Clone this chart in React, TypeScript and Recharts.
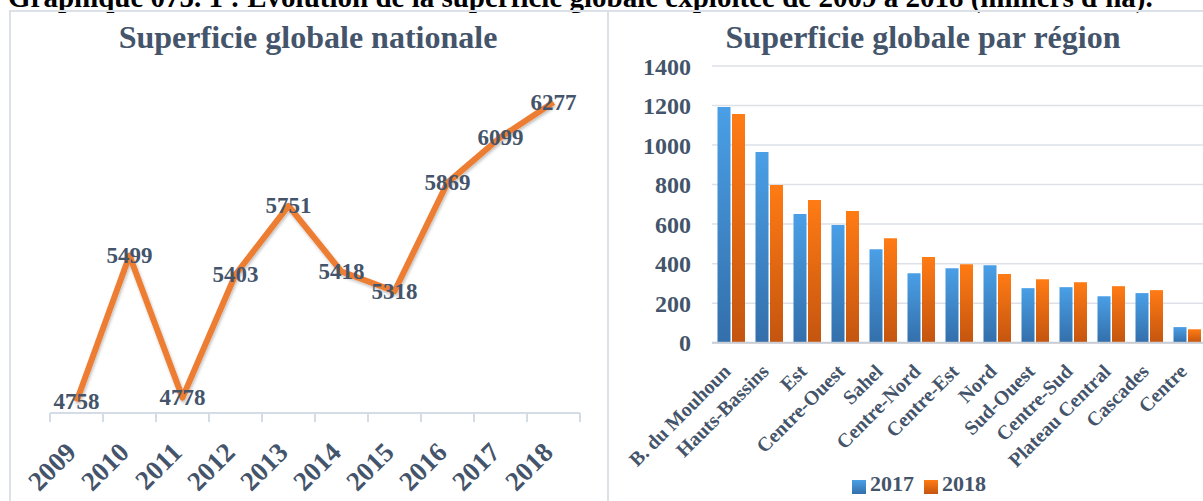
import React from 'react';
import { LineChart, Line, XAxis, YAxis, LabelList, BarChart, Bar, CartesianGrid, Legend } from 'recharts';

// national total (thousand ha)
const years = ['2009', '2010', '2011', '2012', '2013', '2014', '2015', '2016', '2017', '2018'];
const nationalValues = [4758, 5499, 4778, 5403, 5751, 5418, 5318, 5869, 6099, 6277];

// by region
const regions = [
  'B. du Mouhoun', 'Hauts-Bassins', 'Est', 'Centre-Ouest', 'Sahel', 'Centre-Nord', 'Centre-Est',
  'Nord', 'Sud-Ouest', 'Centre-Sud', 'Plateau Central', 'Cascades', 'Centre',
];
const values2017 = [1193, 965, 651, 595, 473, 352, 377, 392, 276, 281, 235, 251, 79];
const values2018 = [1157, 798, 722, 666, 529, 434, 397, 347, 321, 306, 286, 266, 68];
const regionTicks = [0, 200, 400, 600, 800, 1000, 1200, 1400];

const FONT = '"Liberation Serif", "Times New Roman", serif';
const TEXT = '#44546A';

const nationalData = years.map((year, i) => ({ year, value: nationalValues[i] }));
const regionData = regions.map((name, i) => ({ name, v2017: values2017[i], v2018: values2018[i] }));

const YearTick = (props: any) => {
  const { x, y, payload, index } = props;
  const half = 26.5;
  const tx = x + 1;
  const ty = y + 41;
  return (
    <g>
      <line x1={x - half} y1={y} x2={x - half} y2={y + 9} stroke="#D6DCE5" strokeWidth={2} />
      {index === years.length - 1 && (
        <line x1={x + half} y1={y} x2={x + half} y2={y + 9} stroke="#D6DCE5" strokeWidth={2} />
      )}
      <text
        x={tx}
        y={ty}
        transform={`rotate(-45, ${tx}, ${ty})`}
        textAnchor="end"
        fontFamily={FONT}
        fontWeight="bold"
        fontSize={27}
        fill={TEXT}
      >
        {payload.value}
      </text>
    </g>
  );
};

const RegionTick = (props: any) => {
  const { x, y, payload } = props;
  return (
    <text
      x={x + 1}
      y={y + 30}
      transform={`rotate(-45, ${x + 1}, ${y + 30})`}
      textAnchor="end"
      fontFamily={FONT}
      fontWeight="bold"
      fontSize={20}
      fill={TEXT}
    >
      {payload.value}
    </text>
  );
};

const PointLabel = (props: any) => {
  const { x, y, value } = props;
  return (
    <text
      x={x}
      y={y}
      textAnchor="middle"
      dominantBaseline="central"
      fontFamily={FONT}
      fontWeight="bold"
      fontSize={23}
      fill={TEXT}
    >
      {value}
    </text>
  );
};

export default function App() {
  return (
    <div style={{ position: 'relative', width: 1203, height: 501, overflow: 'hidden', background: '#fff', fontFamily: FONT }}>
      <style>{'body{margin:0}'}</style>
      <div
        style={{
          position: 'absolute', left: 8, top: -17, whiteSpace: 'nowrap',
          fontSize: 29, lineHeight: '29px', fontWeight: 'bold', color: '#000',
        }}
      >
        Graphique 075. 1 : Evolution de la superficie globale exploitée de 2009 à 2018 (milliers d'ha).
      </div>
      {/* panel frames */}
      <div style={{ position: 'absolute', left: 9, top: 10, width: 620, height: 520, borderLeft: '2px solid #DCE1E8', borderTop: '2px solid #DCE1E8' }} />
      <div style={{ position: 'absolute', left: 607, top: 10, width: 620, height: 520, borderLeft: '2.5px solid #DCE1E8', borderTop: '2px solid #DCE1E8' }} />

      <div style={{ position: 'absolute', left: 108, top: 21, width: 400, textAlign: 'center', fontSize: 32, lineHeight: '32px', fontWeight: 'bold', color: TEXT }}>
        Superficie globale nationale
      </div>
      <div style={{ position: 'absolute', left: 723, top: 21, width: 400, textAlign: 'center', fontSize: 32, lineHeight: '32px', fontWeight: 'bold', color: TEXT }}>
        Superficie globale par région
      </div>

      <div style={{ position: 'absolute', left: 0, top: 0 }}>
        <LineChart width={600} height={501} data={nationalData} margin={{ top: 78, right: 20, bottom: 0, left: 50 }}>
          <defs>
            <filter id="lineShadow" x="-10%" y="-10%" width="120%" height="130%">
              <feDropShadow dx="1" dy="2" stdDeviation="1.5" floodColor="#000" floodOpacity="0.25" />
            </filter>
          </defs>
          <XAxis
            dataKey="year"
            height={88}
            padding={{ left: 26.5, right: 26.5 }}
            axisLine={{ stroke: '#D6DCE5', strokeWidth: 2 }}
            tickLine={false}
            tickSize={0}
            tickMargin={0}
            interval={0}
            tick={<YearTick />}
          />
          <YAxis hide domain={[4700, 6400]} />
          <Line
            type="linear"
            dataKey="value"
            stroke="#ED7D31"
            strokeWidth={6}
            strokeLinejoin="round"
            dot={false}
            filter="url(#lineShadow)"
            isAnimationActive={false}
          >
            <LabelList dataKey="value" content={<PointLabel />} />
          </Line>
        </LineChart>
      </div>

      <div style={{ position: 'absolute', left: 600, top: 0 }}>
        <BarChart
          width={640}
          height={501}
          data={regionData}
          margin={{ top: 66, right: 34, bottom: 0, left: 12 }}
          barCategoryGap={5.5}
          barGap={1.5}
        >
          <defs>
            <linearGradient id="gBlue" x1="0" y1="0" x2="0" y2="1">
              <stop offset="0%" stopColor="#4A9FE6" />
              <stop offset="100%" stopColor="#336FAB" />
            </linearGradient>
            <linearGradient id="gOrange" x1="0" y1="0" x2="0" y2="1">
              <stop offset="0%" stopColor="#FF7B14" />
              <stop offset="100%" stopColor="#C4550F" />
            </linearGradient>
          </defs>
          <CartesianGrid vertical={false} stroke="#DDE1E7" strokeWidth={1.5} />
          <XAxis
            dataKey="name"
            height={158.3}
            axisLine={{ stroke: '#C9CDD3', strokeWidth: 2 }}
            tickLine={false}
            tickSize={0}
            tickMargin={0}
            interval={0}
            tick={<RegionTick />}
          />
          <YAxis
            width={100}
            domain={[0, 1400]}
            ticks={regionTicks}
            axisLine={false}
            tickLine={false}
            tickSize={0}
            tickMargin={21}
            tick={{ fill: TEXT, fontSize: 24, fontWeight: 'bold', fontFamily: FONT }}
          />
          <Legend
            verticalAlign="middle"
            layout="horizontal"
            iconType="square"
            iconSize={14}
            wrapperStyle={{ top: 472, left: 4, width: 640, lineHeight: '24px' }}
            formatter={(value: string) => (
              <span style={{ color: TEXT, fontSize: 22, fontWeight: 'bold', fontFamily: FONT }}>{value}</span>
            )}
          />
          <Bar dataKey="v2017" name="2017" fill="url(#gBlue)" isAnimationActive={false} />
          <Bar dataKey="v2018" name="2018" fill="url(#gOrange)" isAnimationActive={false} />
        </BarChart>
      </div>
    </div>
  );
}
